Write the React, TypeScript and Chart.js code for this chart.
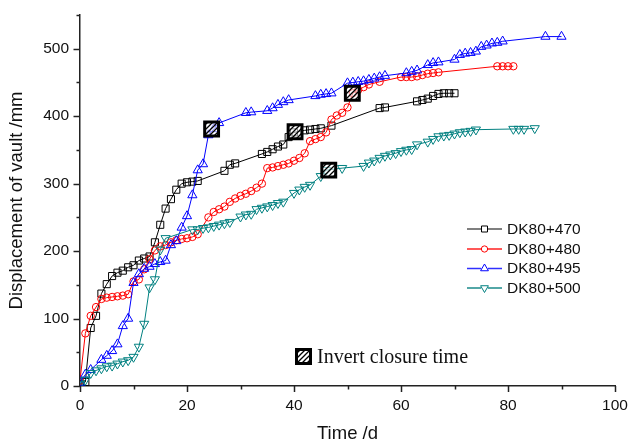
import React, { useEffect, useRef } from 'react';
import { Chart, registerables } from 'chart.js';

Chart.register(...registerables);

// ---- data ----
const seriesNames = ['DK80+470', 'DK80+480', 'DK80+495', 'DK80+500'];

const days470 = [0, 1, 2, 3, 4, 5, 6, 7, 8, 9, 10, 11, 12, 13, 14, 15, 16, 17, 18, 19, 20, 21, 22, 27, 28, 29, 34, 35, 36, 37, 38, 39, 40, 42, 43, 44, 45, 47, 56, 57, 63, 64, 65, 66, 67, 68, 69, 70];
const disp470 = [3, 6, 86, 104, 137, 151, 163, 168, 171, 176, 179, 186, 189, 192, 213, 239, 263, 277, 291, 300, 302, 303, 304, 319, 328, 330, 344, 347, 351, 355, 358, 369, 376, 379, 380, 381, 382, 386, 412, 413, 422, 424, 426, 430, 433, 434, 434, 434];

const days480 = [0, 1, 2, 3, 4, 5, 6, 7, 8, 9, 10, 11, 12, 13, 14, 15, 16, 17, 18, 19, 20, 21, 22, 24, 25, 26, 27, 28, 29, 30, 31, 32, 33, 34, 35, 36, 37, 38, 39, 40, 41, 42, 43, 44, 45, 46, 47, 48, 49, 50, 51, 52, 53, 54, 56, 60, 61, 62, 63, 64, 65, 66, 67, 78, 79, 80, 81];
const disp480 = [8, 78, 104, 117, 129, 131, 132, 133, 134, 136, 155, 158, 173, 188, 201, 207, 209, 213, 216, 218, 219, 221, 225, 250, 258, 262, 266, 273, 278, 282, 285, 289, 294, 300, 323, 324, 326, 328, 330, 334, 338, 345, 363, 366, 369, 376, 395, 401, 405, 413, 434, 439, 443, 447, 451, 458, 458, 458, 459, 461, 463, 464, 465, 474, 474, 474, 474];

const days495 = [0, 1, 2, 4, 5, 6, 7, 8, 9, 10, 11, 12, 13, 14, 15, 16, 17, 18, 19, 20, 21, 22, 23, 24, 25, 26, 31, 32, 35, 36, 37, 38, 39, 44, 45, 46, 47, 50, 51, 52, 53, 54, 55, 56, 57, 61, 62, 63, 65, 66, 67, 70, 71, 72, 73, 74, 75, 76, 77, 78, 79, 87, 90];
const disp495 = [5, 17, 24, 39, 45, 52, 62, 89, 100, 153, 166, 174, 177, 181, 184, 186, 209, 215, 235, 252, 283, 320, 329, 372, 381, 390, 405, 406, 408, 412, 417, 421, 424, 430, 432, 433, 434, 449, 450, 451, 452, 454, 456, 458, 460, 464, 466, 468, 476, 479, 480, 484, 491, 493, 494, 496, 503, 505, 508, 509, 511, 518, 518];

const days500 = [0, 1, 2, 3, 4, 5, 6, 7, 8, 9, 10, 11, 12, 13, 14, 15, 16, 21, 22, 23, 24, 25, 26, 27, 28, 30, 31, 32, 33, 34, 35, 36, 37, 38, 40, 41, 42, 43, 45, 46, 49, 53, 54, 55, 56, 57, 58, 59, 60, 61, 62, 63, 65, 66, 67, 68, 69, 70, 71, 72, 73, 74, 81, 82, 83, 85];
const disp500 = [3, 9, 19, 23, 26, 29, 30, 33, 36, 38, 43, 58, 92, 146, 158, 202, 219, 232, 232, 234, 235, 237, 239, 241, 243, 251, 254, 255, 262, 264, 266, 268, 271, 273, 286, 291, 295, 298, 311, 320, 323, 326, 331, 334, 338, 341, 343, 345, 348, 350, 351, 358, 362, 366, 370, 371, 372, 374, 376, 377, 378, 380, 381, 381, 381, 382];

const closureDays = [24.6, 40.2, 46.5, 50.9];
const closureDisp = [381, 377, 320, 434];
const closureLabel = 'Invert closure time';

const xTitle = 'Time /d';
const yTitle = 'Displacement of vault /mm';
const xMin = 0, xMax = 100, xStep = 20, xMinorStep = 10;
const yMin = 0, yMax = 550, yStep = 100, yMinorStep = 50;

// ---- styles ----
const colors = ['#000000', '#ff0000', '#0000ff', '#008080'];
const legendLineColors = ['#555555', '#ff2020', '#3030ff', '#1a8a8a'];
const pointStyles = ['rect', 'circle', 'triangle', 'triangle'];
const pointRotations = [0, 0, 0, 180];
const pointRadii = [5, 3.7, 5.3, 5.3];
const SANS = '"Liberation Sans", Arial, sans-serif';
const SERIF = '"Liberation Serif", "Times New Roman", serif';
const AXIS = '#222222';

function makeHatch(): CanvasPattern | string {
  const c = document.createElement('canvas');
  c.width = 5; c.height = 5;
  const g = c.getContext('2d');
  if (!g) return '#888';
  g.fillStyle = 'rgba(255,255,255,0.55)';
  g.fillRect(0, 0, 5, 5);
  g.strokeStyle = '#000';
  g.lineWidth = 1.3;
  g.beginPath();
  g.moveTo(-1, 6); g.lineTo(6, -1);
  g.moveTo(-1, 1); g.lineTo(1, -1);
  g.moveTo(4, 6); g.lineTo(6, 4);
  g.stroke();
  return g.createPattern(c, 'repeat') || '#888';
}

function drawMarker(ctx: CanvasRenderingContext2D, style: string, rot: number, x: number, y: number, r: number) {
  ctx.beginPath();
  if (style === 'rect') {
    const s = r * Math.SQRT1_2;
    ctx.rect(x - s, y - s, 2 * s, 2 * s);
  } else if (style === 'circle') {
    ctx.arc(x, y, r, 0, Math.PI * 2);
  } else {
    let a = (rot * Math.PI) / 180;
    ctx.moveTo(x + Math.sin(a) * r, y - Math.cos(a) * r);
    a += (2 * Math.PI) / 3;
    ctx.lineTo(x + Math.sin(a) * r, y - Math.cos(a) * r);
    a += (2 * Math.PI) / 3;
    ctx.lineTo(x + Math.sin(a) * r, y - Math.cos(a) * r);
    ctx.closePath();
  }
  ctx.stroke();
}

export default function App() {
  const ref = useRef<HTMLCanvasElement>(null);

  useEffect(() => {
    document.body.style.margin = '0';
    const canvas = ref.current;
    if (!canvas) return;
    const hatch = makeHatch();

    const allDays = [days470, days480, days495, days500];
    const allDisp = [disp470, disp480, disp495, disp500];

    const datasets: any[] = [
      {
        label: closureLabel,
        data: closureDays.map((d, i) => ({ x: d, y: closureDisp[i] })),
        showLine: false,
        pointStyle: 'rect',
        pointRadius: 9.8,
        pointBorderWidth: 3,
        pointBorderColor: '#000',
        pointBackgroundColor: hatch,
        order: 0,
      },
    ];
    seriesNames.forEach((name, k) => {
      datasets.push({
        label: name,
        data: allDays[k].map((d, i) => ({ x: d, y: allDisp[k][i] })),
        borderColor: colors[k],
        borderWidth: 1,
        fill: false,
        tension: 0,
        pointStyle: pointStyles[k],
        pointRotation: pointRotations[k],
        pointRadius: pointRadii[k],
        pointBorderWidth: 1,
        pointBorderColor: colors[k],
        pointBackgroundColor: 'rgba(0,0,0,0)',
        order: 4 - k,
      });
    });

    const decor = {
      id: 'decor',
      afterDraw(chart: any) {
        const ctx: CanvasRenderingContext2D = chart.ctx;
        const xs = chart.scales.x;
        const ys = chart.scales.y;
        const area = chart.chartArea;
        ctx.save();
        ctx.strokeStyle = AXIS;
        ctx.lineWidth = 1.5;
        for (let v = xMin; v <= xMax; v += xMinorStep) {
          const px = Math.round(xs.getPixelForValue(v)) + 0.5;
          const len = v % xStep === 0 ? 6 : 3.5;
          ctx.beginPath();
          ctx.moveTo(px, area.bottom);
          ctx.lineTo(px, area.bottom + len);
          ctx.stroke();
        }
        for (let v = yMin; v <= yMax; v += yMinorStep) {
          const py = Math.round(ys.getPixelForValue(v)) + 0.5;
          const len = v % yStep === 0 ? 6.5 : 3.5;
          ctx.beginPath();
          ctx.moveTo(area.left, py);
          ctx.lineTo(area.left - len, py);
          ctx.stroke();
        }

        // series legend
        const lx0 = 467, lx1 = 502, tx = 507;
        const rows = [229, 249, 268.5, 288];
        ctx.font = `15.5px ${SANS}`;
        ctx.textBaseline = 'middle';
        ctx.textAlign = 'left';
        seriesNames.forEach((name, k) => {
          const yy = rows[k];
          ctx.strokeStyle = legendLineColors[k];
          ctx.lineWidth = 1.6;
          ctx.beginPath();
          ctx.moveTo(lx0, yy);
          ctx.lineTo(lx1, yy);
          ctx.stroke();
          ctx.fillStyle = '#fff';
          ctx.lineWidth = 1;
          ctx.strokeStyle = colors[k];
          const mx = (lx0 + lx1) / 2;
          const r = pointRadii[k] * 0.85;
          ctx.save();
          ctx.beginPath();
          if (pointStyles[k] === 'circle') ctx.arc(mx, yy, r, 0, Math.PI * 2);
          else ctx.rect(mx - r * 0.75, yy - r * 0.75, r * 1.5, r * 1.5);
          ctx.fill();
          ctx.restore();
          drawMarker(ctx, pointStyles[k], pointRotations[k], mx, yy, r);
          ctx.fillStyle = '#111';
          ctx.fillText(name, tx, yy + 0.5);
        });

        // closure legend
        const cx = 303.5, cy = 356.5, half = 7;
        ctx.fillStyle = hatch as any;
        ctx.fillRect(cx - half, cy - half, half * 2, half * 2);
        ctx.strokeStyle = '#000';
        ctx.lineWidth = 3;
        ctx.strokeRect(cx - half, cy - half, half * 2, half * 2);
        ctx.fillStyle = '#111';
        ctx.font = `20px ${SERIF}`;
        ctx.textBaseline = 'alphabetic';
        ctx.fillText(closureLabel, 317, 363);
        ctx.restore();
      },
    };

    const chart = new Chart(canvas, {
      type: 'line',
      data: { datasets },
      options: {
        animation: false,
        responsive: false,
        events: [],
        layout: { autoPadding: false, padding: { top: 15, right: 14, left: 0, bottom: 0 } },
        plugins: { legend: { display: false }, tooltip: { enabled: false } },
        scales: {
          x: {
            type: 'linear',
            min: xMin,
            max: xMax,
            afterFit: (s: any) => { s.height = 54; s.paddingLeft = 0; s.paddingRight = 0; },
            grid: { display: false, drawTicks: false },
            border: { display: true, color: AXIS, width: 1.5 },
            ticks: {
              stepSize: xStep,
              autoSkip: false,
              maxRotation: 0,
              padding: 10,
              color: '#111',
              font: { family: SANS, size: 15.5 },
            },
            title: {
              display: true,
              text: xTitle,
              color: '#111',
              padding: 0,
              font: { family: SANS, size: 18.5, lineHeight: 0.65 },
            },
          },
          y: {
            type: 'linear',
            min: yMin,
            max: yMax,
            afterFit: (s: any) => { s.width = 80; s.paddingTop = 0; s.paddingBottom = 0; },
            grid: { display: false, drawTicks: false },
            border: { display: true, color: AXIS, width: 1.5 },
            ticks: {
              stepSize: yStep,
              includeBounds: false,
              padding: 11,
              color: '#111',
              font: { family: SANS, size: 15.5 },
            },
            title: {
              display: true,
              text: yTitle,
              color: '#111',
              padding: { top: 6, bottom: 0 },
              font: { family: SANS, size: 18.5 },
            },
          },
        },
      },
      plugins: [decor],
    } as any);

    return () => chart.destroy();
  }, []);

  return (
    <div style={{ width: 629, height: 440 }}>
      <canvas ref={ref} width={629} height={440} style={{ display: 'block' }} />
    </div>
  );
}
